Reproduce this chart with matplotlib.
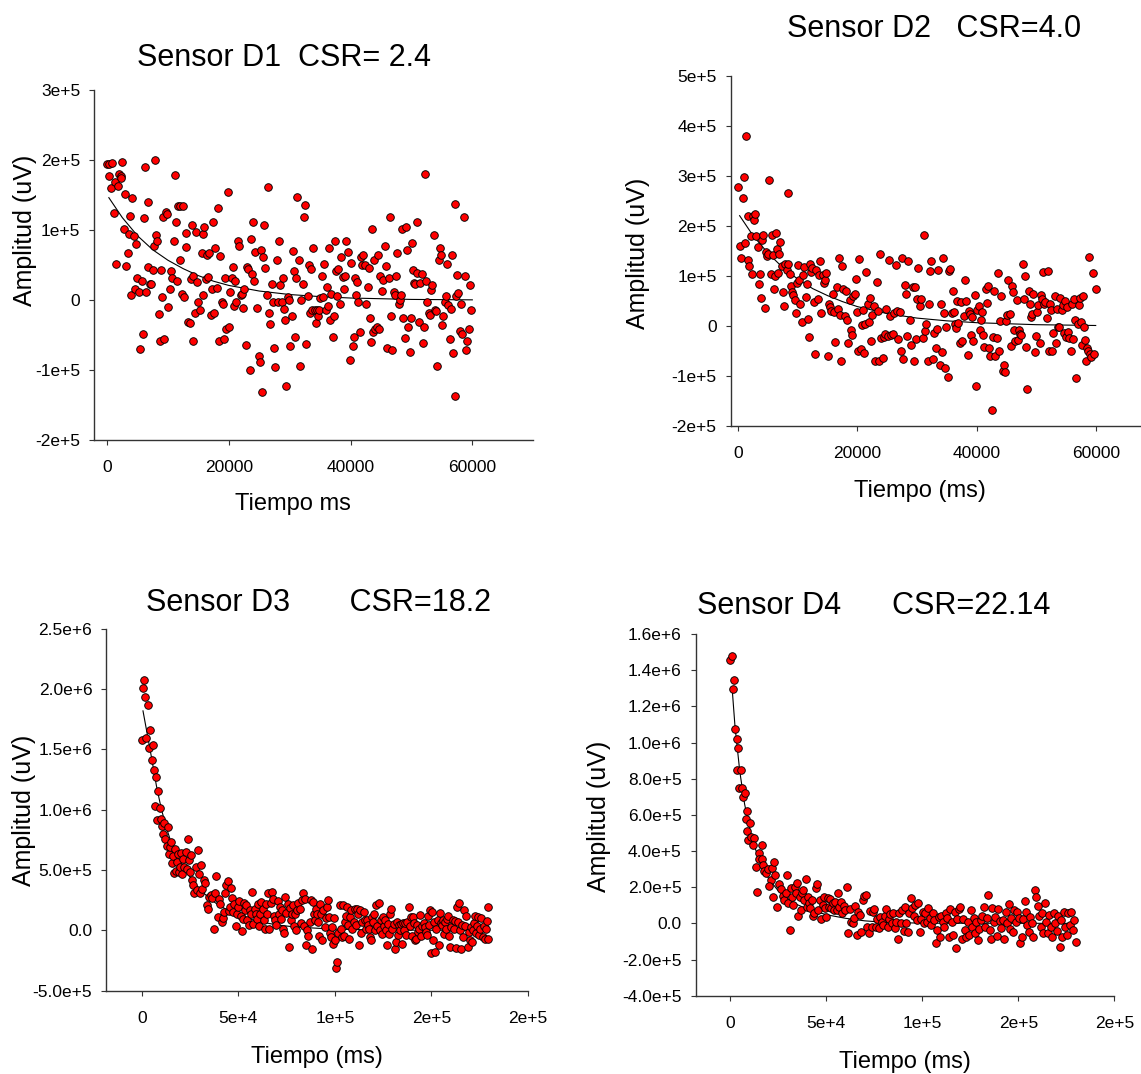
import numpy as np
import matplotlib.pyplot as plt

plt.rcParams['font.family'] = ['Liberation Sans', 'DejaVu Sans']

# values: (time ms, amplitude in units of 1e3 uV)
d1_pts = [(0, 195), (350, 194), (880, 196), (290, 178), (700, 161), (1170, 124), (1290, 169), (1520, 52),
          (1760, 163), (1930, 180), (2230, 178), (2340, 174), (2520, 197), (2700, 101), (2930, 152), (3160, 49),
          (3400, 68), (3520, 94), (3750, 120), (3980, 7), (4100, 146), (4340, 91), (4570, 16), (4690, 80),
          (4860, 31), (5270, 11), (5450, -70), (5740, 27), (5920, -49), (6090, 117), (6270, 190), (6450, 12),
          (6680, 141), (6800, 47), (7030, 23), (7270, 23), (7500, 43), (7740, 78), (7910, 200), (8090, 93),
          (8260, 84), (8560, -20), (8730, -58), (8910, 43), (9080, 5), (9260, 119), (9430, -55), (9610, 126),
          (9840, 123), (10080, -10), (10310, 16), (10550, 42), (10670, 31), (11020, 85), (11130, 179), (11250, 112),
          (11490, 28), (11720, 135), (11900, 58), (12010, 135), (12310, 9), (12540, 135), (12660, 4), (12890, 96),
          (13010, 76), (13360, -31), (13540, -32), (13770, 30), (13890, 107), (14060, -58), (14180, 35), (14420, -19),
          (14590, 97), (14770, 26), (15000, -3), (15240, -14), (15530, 68), (15700, 94), (15820, 7), (16000, 104),
          (16170, 30), (16410, 64), (16580, 33), (16760, 67), (16990, -21), (17170, 16), (17350, 112), (17580, -19),
          (17810, 75), (18050, 17), (18280, 132), (18460, -58), (18580, 63), (18810, -2), (19050, -6), (19220, -56),
          (19400, 32), (19570, -41), (19920, 154), (20040, -38), (20220, 11), (20510, 32), (20740, 48), (20860, -8),
          (21040, 27), (21210, -2), (21450, 84), (21680, 78), (21920, 8), (22150, 9), (22390, -11), (22560, 16),
          (22850, -64), (22970, 48), (23210, 44), (23440, -100), (23620, 88), (23790, 37), (24030, 111), (24140, 27),
          (24380, 69), (24610, -11), (24910, -80), (25080, -89), (25260, 71), (25490, -132), (25610, 61), (25780, 107),
          (26020, 46), (26190, 7), (26370, 162), (26600, -19), (26840, -34), (27070, 23), (27250, -3), (27420, -69),
          (27660, -95), (27890, 57), (28070, -3), (28250, 85), (28480, 22), (28710, -3), (28890, 32), (29070, -12),
          (29300, -28), (29420, -123), (29650, 5), (29890, 0), (30060, -65), (30300, -22), (30470, 70), (30650, 42),
          (30820, -53), (31000, 31), (31230, 147), (31470, 58), (31640, -94), (31820, 0), (32110, 23), (32290, 119),
          (32460, 136), (32700, -63), (32930, 6), (33110, 50), (33280, -18), (33520, 44), (33700, -14), (33870, 75),
          (34110, -14), (34280, -33), (34460, -14), (34630, -22), (34870, -14), (35040, 3), (35280, 35), (35450, 5),
          (35690, 51), (35920, -14), (36100, 19), (36270, -8), (36450, 75), (36620, -28), (36800, 9), (37040, -53),
          (37210, -22), (37390, 84), (37620, 42), (37800, 6), (37970, 45), (38210, -6), (38380, 61), (38680, 33),
          (38910, 16), (39090, 34), (39260, 84), (39560, 69), (39850, -85), (40020, 53), (40320, -65), (40490, -53),
          (40670, 32), (40840, 8), (41020, 26), (41250, -3), (41490, -46), (41720, 61), (41900, 50), (42070, 65),
          (42310, 50), (42490, -5), (42780, 19), (42950, 46), (43130, -25), (43360, -60), (43540, 101), (43720, -46),
          (43890, 57), (44070, -41), (44300, -39), (44540, 64), (44710, -41), (44890, 34), (45120, 13), (45360, 29),
          (45590, 78), (45830, 49), (46060, -68), (46290, 32), (46470, 119), (46700, -22), (46880, -72), (47060, 12),
          (47230, 7), (47470, 34), (47700, 68), (47880, -5), (48050, 0), (48290, 7), (48460, 101), (48640, -25),
          (48870, -54), (49050, 104), (49280, 72), (49460, -38), (49690, -74), (49870, -25), (50100, 81), (50280, 43),
          (50450, 24), (50630, 23), (50860, 112), (50980, 39), (51220, -31), (51450, 25), (51690, 37), (51860, -62),
          (52040, -38), (52270, 181), (52450, 27), (52620, -3), (52860, -18), (53030, -21), (53210, 14), (53440, 22),
          (53680, 93), (53910, -14), (54030, -15), (54260, -94), (54500, 57), (54670, 75), (54850, 64), (55080, -36),
          (55260, -22), (55490, -2), (55670, 6), (55900, 52), (56080, -7), (56260, -55), (56430, -12), (56670, 64),
          (56840, -75), (57080, 137), (57310, 6), (57190, -137), (57550, 36), (57720, 10), (57960, -44), (58130, -5),
          (58370, -48), (58600, 119), (58780, 34), (59010, -72), (59190, -59), (59420, -41), (59650, 22), (59830, -14)]

d2_pts = [(0, 278), (240, 160), (490, 137), (730, 257), (920, 298), (1100, 167), (1340, 381), (1590, 220),
          (1710, 132), (1890, 121), (2080, 180), (2320, 104), (2500, 220), (2690, 212), (2870, 225), (3060, 180),
          (3240, 158), (3420, 85), (3610, 104), (3790, 57), (3970, 173), (4220, 182), (4460, 37), (4640, 148),
          (4830, 140), (5010, 145), (5250, 293), (5440, 105), (5620, 183), (5800, 142), (5990, 75), (6170, 100),
          (6350, 187), (6540, 155), (6720, 107), (6900, 145), (7090, 168), (7330, 121), (7520, 69), (7700, 41),
          (7880, 125), (8130, 113), (8310, 125), (8430, 267), (8680, 104), (8860, 81), (9040, 68), (9230, 63),
          (9470, 52), (9650, 27), (9840, 87), (10020, 122), (10260, 92), (10450, 45), (10690, 9), (10880, 102),
          (11060, 119), (11300, 59), (11490, 85), (11670, 15), (11850, -21), (12100, 125), (12280, 108), (12460, 117),
          (12710, 49), (12890, -55), (13140, 113), (13320, 54), (13560, 102), (13750, 130), (13930, 27), (14180, 102),
          (14360, 87), (14540, 92), (14790, 107), (15030, -60), (15210, 44), (15400, 39), (15580, 31), (15830, 65),
          (16070, 29), (16310, -31), (16560, 78), (16740, 35), (16920, 137), (17110, 23), (17290, -69), (17470, 120),
          (17660, 75), (17900, 21), (18090, 70), (18330, 12), (18510, -33), (18760, 53), (18940, -8), (19120, -17),
          (19310, 60), (19550, 65), (19740, 95), (19980, 29), (20160, -49), (20350, 135), (20530, -45), (20710, 2),
          (20900, 33), (21140, -53), (21320, 5), (21510, 108), (21750, 45), (21940, 9), (22120, 57), (22300, -29),
          (22490, 23), (22730, 40), (22970, -70), (23220, 89), (23400, 31), (23650, -70), (23770, 145), (24010, -23),
          (24260, -63), (24440, -21), (24680, -16), (24870, 35), (25110, -20), (25360, 132), (25540, 20), (25720, -18),
          (25970, -16), (26150, 27), (26400, 123), (26640, 31), (26880, -25), (27130, 29), (27370, -49), (27560, 137),
          (27740, -65), (27920, 83), (28110, 64), (28350, -19), (28540, 131), (28780, 13), (29020, -38), (29270, 79),
          (29510, -69), (29700, 79), (29880, -25), (30060, 55), (30250, 117), (30490, 41), (30730, 55), (30980, -23),
          (31100, 183), (31280, -9), (31530, 5), (31770, -70), (32020, 45), (32200, 111), (32440, 131), (32630, -65),
          (32870, -13), (33120, -43), (33360, -5), (33540, 112), (33790, -78), (33970, 45), (34150, -52), (34340, 137),
          (34580, 27), (34770, -83), (34950, -1), (35130, -101), (35320, 111), (35560, 115), (35800, 27), (35990, 71),
          (36170, 29), (36420, 5), (36600, -3), (36780, 50), (36970, 7), (37210, -33), (37390, 48), (37640, -29),
          (37820, 20), (38070, 92), (38250, 50), (38490, -58), (38680, 31), (38860, 24), (39040, -17), (39290, 19),
          (39470, -29), (39720, 63), (39960, -120), (40140, 32), (40330, 41), (40510, -8), (40690, 12), (40880, 29),
          (41060, -17), (41300, -41), (41550, 75), (41730, 47), (41920, 80), (42160, -43), (42340, -60), (42530, -167),
          (42710, -21), (42890, 70), (43140, -60), (43380, -23), (43570, 107), (43750, -49), (43930, 11), (44120, 60),
          (44360, -90), (44540, -78), (44730, -91), (44910, 11), (45090, 22), (45340, 92), (45580, 25), (45700, -40),
          (45890, 81), (46070, 68), (46310, -8), (46500, -29), (46740, 52), (46920, -27), (47110, -8), (47350, -15),
          (47540, -17), (47720, 124), (47910, 55), (48090, 100), (48330, -41), (48520, -125), (48760, 71), (48940, 45),
          (49120, 19), (49310, 25), (49550, 65), (49740, -51), (49920, -20), (50160, 28), (50350, 42), (50590, -33),
          (50770, 62), (50960, 55), (51140, 109), (51320, 44), (51510, 49), (51750, 17), (51930, 111), (52120, -50),
          (52300, 45), (52550, 32), (52730, -50), (52910, -13), (53100, 61), (53280, -33), (53460, 35), (53710, -1),
          (53890, -1), (54070, 57), (54260, 32), (54440, 42), (54680, -13), (54870, 50), (55050, -21), (55230, 39),
          (55420, -11), (55600, -23), (55780, -49), (55970, 44), (56210, -25), (56400, 55), (56580, 12), (56760, -103),
          (56950, 5), (57130, 42), (57310, 57), (57500, 9), (57680, -37), (57860, 61), (58050, -1), (58170, -28),
          (58350, -69), (58530, -43), (58720, -49), (58840, 139), (59020, -55), (59270, -61), (59510, 107),
          (59760, -56), (60000, 75)]

d3_pts = [(0, 1575), (740, 2011), (1300, 2078), (1670, 1933), (2220, 1597), (2960, 1867), (3700, 1514),
          (4260, 1661), (5000, 1408), (5560, 1539), (6110, 1328), (6850, 1028), (7220, 1267), (7960, 917),
          (8520, 1158), (9260, 1011), (10000, 922), (10560, 861), (11110, 800), (11670, 889), (12220, 761),
          (12780, 700), (13330, 853), (13890, 633), (14450, 694), (15000, 733), (15370, 561), (16110, 619),
          (16670, 472), (17220, 672), (17780, 494), (18330, 569), (18710, 633), (19260, 483), (19820, 528),
          (20370, 639), (20930, 469), (21480, 589), (22040, 522), (22590, 650), (23150, 506), (23700, 756),
          (24260, 581), (24820, 486), (25370, 622), (25930, 417), (26480, 375), (27040, 306), (27780, 528),
          (28330, 333), (28890, 667), (29450, 464), (30000, 306), (30560, 542), (31300, 339), (32040, 417),
          (32780, 394), (33520, 208), (34260, 181), (35000, 278), (35740, 292), (36480, 272), (37220, 11),
          (37960, 306), (38520, 450), (39260, 111), (39820, 264), (40560, 222), (41300, 69), (41850, 106),
          (42410, 153), (42960, 306), (43710, 375), (44450, 411), (45000, 161), (45560, 194), (46110, 347),
          (46860, 269), (47410, 153), (47970, 222), (48710, 33), (49260, 133), (49820, 194), (50560, 244),
          (51110, 117), (51670, -6), (52410, 97), (52960, 228), (53520, 167), (54070, 208), (54630, 83), (55370, 42),
          (56000, 172), (56480, 139), (57230, 322), (57780, 56), (58340, 181), (59080, 139), (59630, 97), (60190, 222),
          (60740, 33), (61300, 139), (61850, 236), (62600, 181), (63150, 83), (63710, 14), (64260, 222), (65000, 139),
          (65560, 306), (66110, 14), (66670, 228), (67410, 319), (67970, 256), (68520, 117), (69080, 83), (69640, 47),
          (70370, 244), (70930, 133), (71490, 194), (72040, 97), (72600, 172), (73150, 14), (73710, -22), (74260, 278),
          (74820, 144), (75560, 222), (76120, -139), (76670, 189), (77230, 83), (77780, 133), (78340, 208), (78900, 33),
          (79450, 139), (80010, 6), (80560, 167), (81120, 228), (81670, 181), (82410, 61), (82970, 250), (83520, 306),
          (84080, 33), (84630, 264), (85190, -125), (85750, 6), (86300, -50), (86860, 69), (87420, 250), (87970, -153),
          (88530, 236), (89080, 139), (89640, 83), (90190, 181), (90750, 139), (91310, 69), (91860, -50), (92420, 222),
          (92970, 139), (93530, -83), (94080, 167), (94640, 28), (95190, 106), (95750, 194), (96310, 250), (96860, 111),
          (97420, -22), (97970, -56), (98530, 28), (99080, -111), (99640, 106), (100190, -83), (100750, -311),
          (101300, -264), (101860, -22), (102410, 208), (102970, 14), (103520, -56), (104080, 208), (104640, -50),
          (105190, 69), (105750, 117), (106300, 194), (106860, 42), (107420, -69), (107970, 111), (108530, 172),
          (109080, 14), (109640, 69), (110190, 181), (110750, 42), (111300, 181), (112050, 139), (112600, -125),
          (113160, 172), (113710, -22), (114270, 69), (114820, 153), (115380, 83), (115940, 14), (116490, 89),
          (117050, 42), (117600, 14), (118160, -56), (118710, -83), (119270, 111), (119820, 69), (120380, 139),
          (120930, 0), (121490, 208), (122040, 33), (122600, 228), (123150, 0), (123710, 89), (124260, -28),
          (124820, 111), (125370, 33), (125930, 89), (126490, 6), (127040, -125), (127600, 56), (128150, -28),
          (128710, 133), (129260, 181), (129820, 14), (130380, 56), (130930, -153), (131490, -97), (132040, 69),
          (132600, -42), (133150, 42), (133710, 6), (134260, 56), (134820, -111), (135380, 61), (135930, 0),
          (136490, 61), (137040, -42), (137600, 69), (138160, 194), (138710, 33), (139270, 111), (139820, -50),
          (140380, 111), (140930, 61), (141490, -83), (142040, -69), (142600, 42), (143160, -14), (143710, 14),
          (144270, 125), (144820, -50), (145380, 33), (145930, 61), (146490, 28), (147040, -14), (147600, -42),
          (148160, 117), (148710, 42), (149270, 172), (149820, -189), (150380, 153), (150930, -83), (151490, 69),
          (152040, -181), (152600, 14), (153160, 83), (153710, -125), (154270, 144), (154820, 61), (155380, 42),
          (155930, 89), (156490, -28), (157040, 69), (157600, 14), (158160, 97), (158710, 117), (159270, -50),
          (159820, -139), (160380, 28), (160940, 89), (161490, 14), (162050, 78), (162600, -147), (163160, 194),
          (163710, 69), (164270, 228), (164820, 0), (165380, -153), (165940, 42), (166490, -56), (167050, 167),
          (167600, 33), (168160, 117), (168710, -139), (169270, -14), (169820, -83), (170380, 28), (170940, -97),
          (171490, 0), (172050, 61), (172600, 117), (173160, -22), (173710, 33), (174270, 111), (174830, -42),
          (175380, 14), (175940, 106), (176490, -56), (177050, 33), (177600, -69), (178160, 14), (178720, 78),
          (179270, 194), (179500, -69)]

d4_pts = [(0, 1454), (760, 1480), (1330, 1295), (2090, 1343), (2650, 1074), (3410, 1018), (4170, 969),
          (3410, 849), (5690, 849), (4740, 747), (6070, 747), (6830, 701), (7580, 720), (8720, 624), (8150, 576),
          (8720, 513), (10240, 554), (9480, 461), (10810, 480), (12320, 470), (11750, 434), (16310, 434),
          (15170, 391), (14790, 354), (13270, 314), (16500, 354), (16880, 323), (17630, 292), (18770, 277),
          (19720, 299), (21810, 304), (22760, 341), (21240, 240), (20290, 207), (23330, 268), (14030, 175),
          (22190, 148), (24460, 92), (25410, 218), (26560, 192), (27310, 151), (28260, 129), (29000, 170),
          (29380, 266), (30340, 114), (30900, -37), (31470, 194), (32230, 148), (32800, 101), (33560, 203),
          (34130, 166), (34890, 221), (35450, 41), (36220, 148), (36780, 74), (37350, 166), (37920, 185),
          (38680, 129), (39440, 244), (39820, 92), (40380, 148), (40950, 114), (41710, 83), (42470, 129), (43040, 41),
          (43800, 55), (44560, 194), (45130, 218), (45880, 74), (46640, 129), (47400, 22), (48160, 101), (48920, 144),
          (49490, 83), (50060, 37), (50810, 138), (51380, 92), (52140, 133), (52710, 83), (53470, 111), (54230, 74),
          (54790, 120), (55550, 74), (56310, 166), (56880, 92), (57640, 120), (58400, 55), (59150, 96), (59910, 74),
          (60670, 203), (61430, -52), (62190, 77), (62950, 9), (63710, 0), (64460, 28), (65220, 96), (65980, -65),
          (66740, 65), (67500, 46), (68260, -46), (69020, 129), (69780, 151), (70530, 157), (71290, -18), (72050, -52),
          (73000, 70), (73570, -18), (74320, 65), (75080, 77), (75840, -18), (76600, 22), (77360, -28), (78120, 37),
          (78880, 9), (79630, -9), (80390, 41), (81150, 77), (81910, -18), (82670, 22), (83430, 52), (84180, 0),
          (84940, 59), (85700, -28), (86460, 9), (87220, -89), (87980, 55), (88740, 0), (89490, 74), (90250, -41),
          (91010, 92), (91770, 0), (92530, -46), (93290, 55), (94050, 138), (94800, 83), (95560, 41), (96320, 101),
          (97080, 18), (97840, 114), (98600, -46), (99360, 22), (100110, 65), (100870, 0), (101630, 59), (102390, 9),
          (103150, 83), (103910, 28), (104670, -9), (105420, 55), (106180, 18), (106940, -111), (107700, -37),
          (108460, 37), (109220, -74), (109980, 41), (110740, 9), (111500, -18), (112250, 55), (113010, 28),
          (113770, -74), (114530, 77), (115290, 9), (116050, -65), (116800, 65), (117560, -138), (118320, 22),
          (119080, 77), (119840, 92), (120600, -89), (121360, 22), (122120, -37), (122880, -74), (123630, 9),
          (124390, -65), (125150, 74), (125910, -18), (126670, 28), (127430, -55), (128180, 9), (128940, -92),
          (129700, -33), (130460, 18), (131220, 41), (131980, 92), (132740, -18), (133500, 28), (134260, 157),
          (135010, -37), (135770, -89), (136530, 83), (137290, 9), (138050, 37), (138810, -70), (139570, 77),
          (140320, 15), (141080, -28), (141840, 18), (142600, -89), (143360, 65), (144120, 0), (144880, 107),
          (145640, -33), (146390, 28), (147150, -46), (147910, 74), (148670, 9), (149430, 65), (150190, 28),
          (150950, -111), (151710, -74), (152460, 22), (153220, 125), (153980, 65), (154740, -9), (155500, -46),
          (156260, 37), (157020, 4), (157770, -74), (158530, 185), (159290, 144), (160050, 96), (160810, 41),
          (161570, -18), (162330, 55), (163090, -52), (163840, 114), (164600, 9), (165360, -55), (166120, 46),
          (166880, -18), (167640, -74), (168400, 59), (169160, 0), (169910, -41), (170670, 41), (171430, -129),
          (172190, 18), (172950, -74), (173710, 65), (174470, -18), (175230, -65), (175990, 59), (176750, -9),
          (177510, 65), (178270, -37), (179030, 18), (179790, -101)]

# fitted decay curves
d1_fit = [(290, 146.5), (2500, 118), (5000, 92), (7500, 72), (10000, 57), (12500, 45), (15000, 35), (17500, 27),
          (20000, 21), (25000, 13), (30000, 8), (35000, 5), (40000, 3), (50000, 1), (60000, 0.4)]
d2_fit = [(240, 221), (2500, 181), (5000, 146), (7500, 117), (10000, 94), (12500, 75), (15000, 61), (17500, 49),
          (20000, 39), (25000, 25), (30000, 16), (35000, 10.5), (40000, 6.8), (50000, 2.8), (60000, 1.2)]
d3_fit = [(560, 1819), (2500, 1650), (5000, 1430), (7500, 1200), (10000, 1010), (12500, 860), (15000, 735),
          (17500, 640), (20000, 560), (25000, 440), (30000, 340), (35000, 265), (40000, 205), (50000, 125),
          (60000, 75), (70000, 45), (80000, 27), (100000, 10), (120000, 4), (150000, 1), (180000, 0)]
d4_fit = [(1140, 1282), (2500, 1090), (5000, 840), (7500, 660), (10000, 530), (12500, 430), (15000, 355),
          (17500, 295), (20000, 248), (25000, 180), (30000, 135), (35000, 103), (40000, 80), (50000, 48),
          (60000, 28), (70000, 14), (80000, 6), (100000, 1), (180000, 0)]

titles = ['Sensor D1  CSR= 2.4', 'Sensor D2   CSR=4.0', 'Sensor D3       CSR=18.2', 'Sensor D4      CSR=22.14']
xlabels = ['Tiempo ms', 'Tiempo (ms)', 'Tiempo (ms)', 'Tiempo (ms)']
ylabel = 'Amplitud (uV)'

xt_short = [0, 20000, 40000, 60000]
xt_short_lbl = ['0', '20000', '40000', '60000']
xt_long = [0, 50000, 100000, 150000, 200000]
xt_long_lbl = ['0', '5e+4', '1e+5', '2e+5', '2e+5']
yt_d1 = [-2e5, -1e5, 0, 1e5, 2e5, 3e5]
yt_d1_lbl = ['-2e+5', '-1e+5', '0', '1e+5', '2e+5', '3e+5']
yt_d2 = [-2e5, -1e5, 0, 1e5, 2e5, 3e5, 4e5, 5e5]
yt_d2_lbl = ['-2e+5', '-1e+5', '0', '1e+5', '2e+5', '3e+5', '4e+5', '5e+5']
yt_d3 = [-5e5, 0, 5e5, 1e6, 1.5e6, 2e6, 2.5e6]
yt_d3_lbl = ['-5.0e+5', '0.0', '5.0e+5', '1.0e+6', '1.5e+6', '2.0e+6', '2.5e+6']
yt_d4 = [-4e5, -2e5, 0, 2e5, 4e5, 6e5, 8e5, 1e6, 1.2e6, 1.4e6, 1.6e6]
yt_d4_lbl = ['-4.0e+5', '-2.0e+5', '0.0', '2.0e+5', '4.0e+5', '6.0e+5', '8.0e+5', '1.0e+6', '1.2e+6',
             '1.4e+6', '1.6e+6']

W, H = 1141, 1074
fig = plt.figure(figsize=(W / 100, H / 100), dpi=100)


def px_rect(left, right, top, bottom):
    return [left / W, 1 - bottom / H, (right - left) / W, (bottom - top) / H]


def panel(rect, pts, fit, xlim, ylim, xt, xtl, yt, ytl):
    ax = fig.add_axes(rect)
    t, a = np.array(pts, dtype=float).T
    ft, fa = np.array(fit, dtype=float).T
    ax.plot(ft, fa * 1e3, color='black', lw=0.8, zorder=2)
    ax.scatter(t, a * 1e3, s=30, c='#ff0000', edgecolors='black', linewidths=0.65, zorder=3, clip_on=False)
    ax.set_xlim(*xlim)
    ax.set_ylim(*ylim)
    ax.set_xticks(xt)
    ax.set_xticklabels(xtl)
    ax.set_yticks(yt)
    ax.set_yticklabels(ytl)
    for s in ['top', 'right']:
        ax.spines[s].set_visible(False)
    for s in ['left', 'bottom']:
        ax.spines[s].set_color('#333333')
        ax.spines[s].set_linewidth(1.0)
    ax.tick_params(axis='both', direction='out', length=3.6, width=0.8, color='#333333', labelsize=12.5)
    ax.tick_params(axis='x', pad=11)
    ax.tick_params(axis='y', pad=6.5)
    return ax


panel(px_rect(94.3, 533.2, 90.3, 440), d1_pts, d1_fit, (-2100, 70000), (-2e5, 3e5),
      xt_short, xt_short_lbl, yt_d1, yt_d1_lbl)
panel(px_rect(730.6, 1141, 76.3, 426), d2_pts, d2_fit, (-1275, 67600), (-2e5, 5e5),
      xt_short, xt_short_lbl, yt_d2, yt_d2_lbl)
panel(px_rect(106.4, 527.9, 628.7, 990.7), d3_pts, d3_fit, (-18400, 200000), (-5e5, 2.5e6),
      xt_long, xt_long_lbl, yt_d3, yt_d3_lbl)
panel(px_rect(695.6, 1114.4, 634, 995.7), d4_pts, d4_fit, (-18000, 200000), (-4e5, 1.6e6),
      xt_long, xt_long_lbl, yt_d4, yt_d4_lbl)

title_pos = [(284, 66), (934, 36.7), (319, 610.7), (873.7, 614.3)]
xlabel_pos = [(293, 510), (920, 496.7), (316.8, 1063.3), (904.7, 1068.3)]
ylabel_pos = [(25, 230), (638, 253), (24, 810), (599, 816.7)]

for i in range(4):
    x, y = title_pos[i]
    fig.text(x / W, 1 - y / H, titles[i], fontsize=22, ha='center', va='baseline')
    x, y = xlabel_pos[i]
    fig.text(x / W, 1 - y / H, xlabels[i], fontsize=17, ha='center', va='baseline')
    x, y = ylabel_pos[i]
    fig.text(x / W, 1 - y / H, ylabel, fontsize=18, ha='center', va='center', rotation=90)

fig.savefig('out.png', dpi=100)
